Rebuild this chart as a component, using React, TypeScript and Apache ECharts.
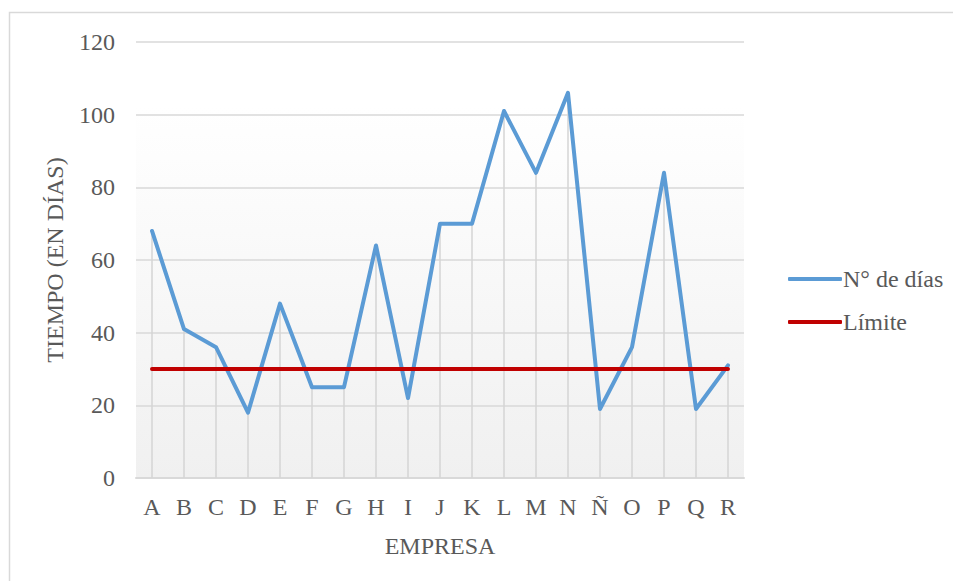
import React, { useEffect, useRef } from "react";
import * as echarts from "echarts";

// Companies (EMPRESA) on the category axis
const empresas = ["A", "B", "C", "D", "E", "F", "G", "H", "I", "J", "K", "L", "M", "N", "Ñ", "O", "P", "Q", "R"];
// Time in days per company
const numDias = [68, 41, 36, 18, 48, 25, 25, 64, 22, 70, 70, 101, 84, 106, 19, 36, 84, 19, 31];
// Reference limit, in days
const limite = [30, 30, 30, 30, 30, 30, 30, 30, 30, 30, 30, 30, 30, 30, 30, 30, 30, 30, 30];
const yTicks = { min: 0, max: 120, interval: 20 };

const FONT = "Liberation Serif";
const TEXT = "#595959";
const GRID = "#d9d9d9";
const FS = 24;

export default function App() {
  const ref = useRef<HTMLDivElement>(null);

  useEffect(() => {
    if (!ref.current) return;
    const chart = echarts.init(ref.current, undefined, { renderer: "svg" });
    chart.setOption({
      animation: false,
      backgroundColor: "#ffffff",
      textStyle: { fontFamily: FONT },
      graphic: [
        {
          type: "rect",
          shape: { x: 9.5, y: 12.5, width: 980, height: 620 },
          style: { fill: "none", stroke: GRID, lineWidth: 1.5 },
          silent: true,
          z: -10,
        },
      ],
      grid: {
        left: 136,
        right: 209,
        top: 42,
        bottom: 103,
        show: true,
        borderWidth: 0,
        backgroundColor: new echarts.graphic.LinearGradient(0, 0, 0, 1, [
          { offset: 0, color: "#ffffff" },
          { offset: 0.15, color: "#ffffff" },
          { offset: 1, color: "#f0f0f0" },
        ]),
      },
      legend: {
        orient: "vertical",
        left: 783,
        top: 262,
        itemWidth: 54,
        itemHeight: 4,
        itemGap: 19,
        icon: "roundRect",
        data: ["N° de días", "Límite"],
        textStyle: { fontFamily: FONT, fontSize: FS, color: TEXT, lineHeight: 24, padding: [0, 0, 0, -4] },
      },
      xAxis: {
        type: "category",
        data: empresas,
        boundaryGap: true,
        name: "EMPRESA",
        nameLocation: "middle",
        nameGap: 56,
        nameTextStyle: { fontFamily: FONT, fontSize: FS, color: TEXT },
        axisLine: { show: true, lineStyle: { color: GRID, width: 2 } },
        axisTick: { show: false },
        axisLabel: { fontFamily: FONT, fontSize: FS, color: TEXT, margin: 17, interval: 0 },
        splitLine: { show: false },
      },
      yAxis: {
        type: "value",
        min: yTicks.min,
        max: yTicks.max,
        interval: yTicks.interval,
        name: "TIEMPO (EN DÍAS)",
        nameLocation: "middle",
        nameGap: 69,
        nameRotate: 90,
        nameTextStyle: { fontFamily: FONT, fontSize: FS, color: TEXT },
        axisLine: { show: false },
        axisTick: { show: false },
        axisLabel: { fontFamily: FONT, fontSize: FS, color: TEXT, margin: 21 },
        splitLine: { show: true, lineStyle: { color: GRID, width: 1.5 } },
      },
      series: [
        {
          // drop lines from each point to the axis
          type: "bar",
          data: numDias,
          barWidth: 1.5,
          itemStyle: { color: "#d4d4d4" },
          silent: true,
          z: 1,
        },
        {
          name: "N° de días",
          type: "line",
          data: numDias,
          symbol: "none",
          itemStyle: { color: "#5b9bd5" },
          lineStyle: { color: "#5b9bd5", width: 4, join: "round", cap: "round" },
          z: 3,
        },
        {
          name: "Límite",
          type: "line",
          data: limite,
          symbol: "none",
          itemStyle: { color: "#c00000" },
          lineStyle: { color: "#c00000", width: 4, cap: "round" },
          z: 4,
        },
      ],
    });
    return () => chart.dispose();
  }, []);

  return <div ref={ref} style={{ position: "fixed", left: 0, top: 0, width: 953, height: 581 }} />;
}
